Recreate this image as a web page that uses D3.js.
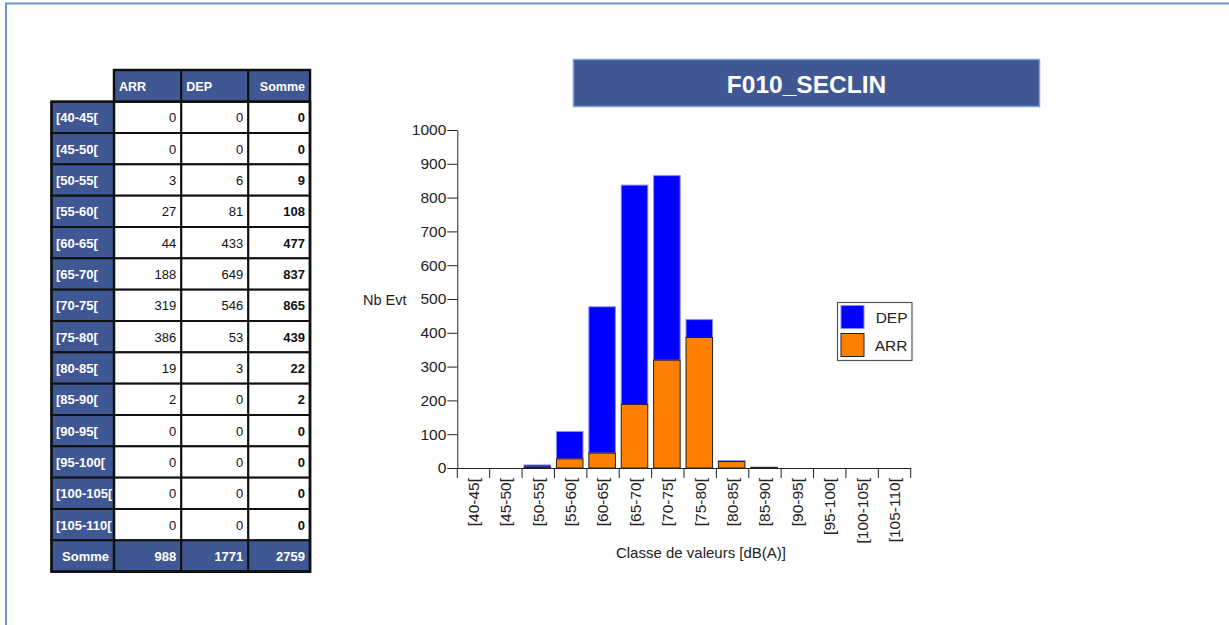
<!DOCTYPE html>
<html>
<head>
<meta charset="utf-8">
<script src="https://cdn.jsdelivr.net/npm/d3@7"></script>
<style>
  html, body { margin: 0; padding: 0; background: #fff; }
  svg { display: block; font-family: "Liberation Sans", Arial, sans-serif; }
</style>
</head>
<body>
<svg id="chart" width="1229" height="625"></svg>
<script>
const categories = ["[40-45[", "[45-50[", "[50-55[", "[55-60[", "[60-65[", "[65-70[", "[70-75[", "[75-80[", "[80-85[", "[85-90[", "[90-95[", "[95-100[", "[100-105[", "[105-110["];
const arrValues = [0, 0, 3, 27, 44, 188, 319, 386, 19, 2, 0, 0, 0, 0];
const depValues = [0, 0, 6, 81, 433, 649, 546, 53, 3, 0, 0, 0, 0, 0];
const tableColumns = ["ARR", "DEP", "Somme"];
const yTicks = [0, 100, 200, 300, 400, 500, 600, 700, 800, 900, 1000];
const title = "F010_SECLIN";
const yLabel = "Nb Evt";
const xLabel = "Classe de valeurs [dB(A)]";
const totalLabel = "Somme";

const svg = d3.select("#chart");
const BLUE_HDR = "#3f5893";

// Outer frame
svg.append("path")
  .attr("d", "M6,625 L6,3.5 L1229,3.5")
  .attr("fill", "none").attr("stroke", "#6a96d2").attr("stroke-width", 2);

// ---------- Table ----------
const colX = [51.5, 114, 181.3, 248.3, 310];
const headerTop = 70, headerBottom = 101.7, rowH = 31.33;
const rows = categories.map((c, i) => ({ label: c, vals: [arrValues[i], depValues[i], arrValues[i] + depValues[i]] }));
const totals = [d3.sum(arrValues), d3.sum(depValues), d3.sum(arrValues) + d3.sum(depValues)];
const tbl = svg.append("g");

tableColumns.forEach((h, j) => {
  tbl.append("rect").attr("x", colX[j + 1]).attr("y", headerTop)
    .attr("width", colX[j + 2] - colX[j + 1]).attr("height", headerBottom - headerTop)
    .attr("fill", BLUE_HDR).attr("stroke", "#111").attr("stroke-width", 2);
  const right = j === 2;
  tbl.append("text")
    .attr("x", right ? colX[j + 2] - 5 : colX[j + 1] + 5)
    .attr("y", (headerTop + headerBottom) / 2 + 5)
    .attr("text-anchor", right ? "end" : "start")
    .attr("fill", "#fff").attr("font-weight", "bold").attr("font-size", "12.5px")
    .text(h);
});

const allRows = rows.concat([{ label: totalLabel, vals: totals, total: true }]);
allRows.forEach((r, i) => {
  const y0 = headerBottom + i * rowH;
  const cy = y0 + rowH / 2 + 5;
  tbl.append("rect").attr("x", colX[0]).attr("y", y0)
    .attr("width", colX[1] - colX[0]).attr("height", rowH)
    .attr("fill", BLUE_HDR).attr("stroke", "#111").attr("stroke-width", 2);
  tbl.append("text")
    .attr("x", r.total ? colX[1] - 5 : colX[0] + 4.5).attr("y", cy)
    .attr("text-anchor", r.total ? "end" : "start")
    .attr("fill", "#fff").attr("font-weight", "bold").attr("font-size", "13px")
    .text(r.label);
  r.vals.forEach((v, j) => {
    tbl.append("rect").attr("x", colX[j + 1]).attr("y", y0)
      .attr("width", colX[j + 2] - colX[j + 1]).attr("height", rowH)
      .attr("fill", r.total ? BLUE_HDR : "#fff").attr("stroke", "#111").attr("stroke-width", 2);
    tbl.append("text")
      .attr("x", colX[j + 2] - 5).attr("y", cy)
      .attr("text-anchor", "end")
      .attr("fill", r.total ? "#fff" : "#111")
      .attr("font-weight", (r.total || j === 2) ? "bold" : "normal")
      .attr("font-size", "13px")
      .text(v);
  });
});
tbl.append("rect").attr("x", colX[1]).attr("y", headerTop)
  .attr("width", colX[4] - colX[1]).attr("height", headerBottom - headerTop + allRows.length * rowH)
  .attr("fill", "none").attr("stroke", "#111").attr("stroke-width", 2.5);
tbl.append("rect").attr("x", colX[0]).attr("y", headerBottom)
  .attr("width", colX[4] - colX[0]).attr("height", allRows.length * rowH)
  .attr("fill", "none").attr("stroke", "#111").attr("stroke-width", 2.5);

// ---------- Title ----------
svg.append("rect").attr("x", 573.5).attr("y", 59.5).attr("width", 466).attr("height", 47)
  .attr("fill", BLUE_HDR).attr("stroke", "#7f9fdc").attr("stroke-width", 1.5);
svg.append("text").attr("x", 806.5).attr("y", 93).attr("text-anchor", "middle")
  .attr("fill", "#fff").attr("font-weight", "bold").attr("font-size", "24.5px")
  .text(title);

// ---------- Chart ----------
const x = d3.scaleBand().domain(categories).range([457.3, 910.7]).padding(0);
const y = d3.scaleLinear().domain([0, 1000]).range([468, 130]);
const g = svg.append("g");

const stackData = categories.map((c, i) => ({ cat: c, ARR: arrValues[i], DEP: depValues[i] }));
const stack = d3.stack().keys(["ARR", "DEP"])(stackData);
const colors = { ARR: "#ff8000", DEP: "#0000ff" };
const strokes = { ARR: "#222", DEP: "#8a8aff" };
const barOff = 2, barW = x.bandwidth() * 0.82;

[stack[1], stack[0]].forEach(layer => {
  g.append("g").selectAll("rect").data(layer.filter(d => d[1] - d[0] > 0)).enter().append("rect")
    .attr("x", d => x(d.data.cat) + barOff)
    .attr("y", d => y(d[1]))
    .attr("width", barW)
    .attr("height", d => y(d[0]) - y(d[1]))
    .attr("fill", colors[layer.key])
    .attr("stroke", strokes[layer.key])
    .attr("stroke-width", 1);
});

// Y axis
const yAxis = g.append("g").attr("transform", "translate(457.3,0)")
  .call(d3.axisLeft(y).tickValues(yTicks).tickFormat(d3.format("d")).tickSize(10).tickSizeOuter(0).tickPadding(1));
yAxis.selectAll("text").attr("font-size", "15.5px").attr("fill", "#222")
  .attr("font-family", "Liberation Sans, Arial, sans-serif");
yAxis.selectAll("line, path").attr("stroke", "#222");

// X axis
const xAxis = g.append("g").attr("transform", "translate(0,468)")
  .call(d3.axisBottom(x).tickSize(0).tickSizeOuter(0));
xAxis.select("path").attr("stroke", "#222");
xAxis.selectAll("text")
  .attr("font-size", "15.5px").attr("fill", "#222")
  .attr("font-family", "Liberation Sans, Arial, sans-serif")
  .attr("transform", "rotate(-90)")
  .attr("text-anchor", "end")
  .attr("x", -10).attr("y", 0).attr("dy", "0.35em");
const boundaries = categories.map(c => x(c)).concat([x.range()[1]]);
g.append("g").selectAll("line").data(boundaries).enter().append("line")
  .attr("x1", d => d).attr("x2", d => d)
  .attr("y1", 468).attr("y2", 478)
  .attr("stroke", "#222");

svg.append("text").attr("x", 363).attr("y", 305).attr("font-size", "14.5px").attr("fill", "#222").text(yLabel);
svg.append("text").attr("x", 701).attr("y", 558).attr("text-anchor", "middle")
  .attr("font-size", "15px").attr("fill", "#222").text(xLabel);

// Legend
const leg = svg.append("g");
leg.append("rect").attr("x", 837.5).attr("y", 302.5).attr("width", 74.5).attr("height", 58)
  .attr("fill", "#fff").attr("stroke", "#555").attr("stroke-width", 1.2);
const legItems = [{ key: "DEP", y: 305.5 }, { key: "ARR", y: 333.5 }];
legItems.forEach(it => {
  leg.append("rect").attr("x", 841).attr("y", it.y).attr("width", 23).attr("height", 23)
    .attr("fill", colors[it.key]).attr("stroke", strokes[it.key]);
  leg.append("text").attr("x", 907.5).attr("y", it.y + 17.5).attr("text-anchor", "end")
    .attr("font-size", "15.5px").attr("fill", "#222").text(it.key);
});
</script>
</body>
</html>
